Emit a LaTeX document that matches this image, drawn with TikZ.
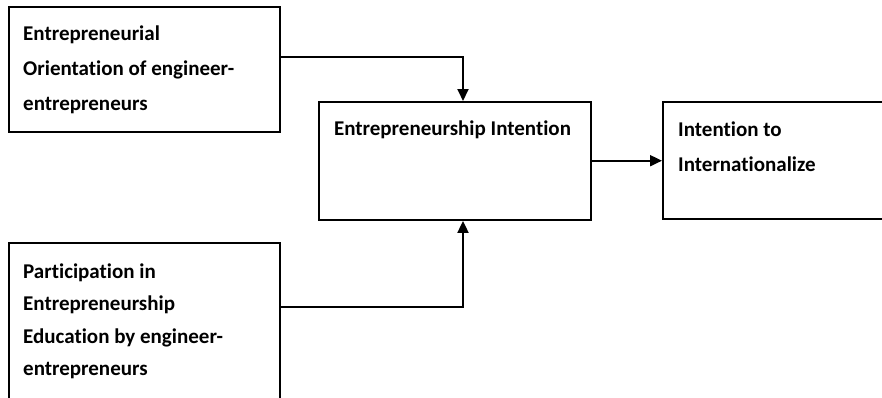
\documentclass[tikz,border=0pt]{standalone}
\usepackage{fontspec}
\setmainfont{Carlito}[Ligatures=NoCommon]
\usetikzlibrary{arrows.meta}
\begin{document}
\begin{tikzpicture}[x=1pt,y=-1pt,
  box/.style={draw=black,line width=1.9pt,fill=white},
  txt/.style={anchor=base west,inner sep=0pt,font=\bfseries\fontsize{21}{25}\selectfont},
  conn/.style={line width=1.9pt,-{Triangle[length=12pt,width=11pt]}}]
\useasboundingbox (0,0) rectangle (882,397);
\clip (0,0) rectangle (882,397);
\fill[white] (0,0) rectangle (882,397);
% boxes
\node[box,minimum width=271pt,minimum height=125pt,inner sep=0pt,anchor=north west] (A) at (8,6) {};
\node[box,minimum width=272pt,minimum height=118pt,inner sep=0pt,anchor=north west] (B) at (318,101) {};
\node[box,minimum width=240pt,minimum height=117pt,inner sep=0pt,anchor=north west] (C) at (662,101) {};
\node[box,minimum width=271pt,minimum height=170pt,inner sep=0pt,anchor=north west] (D) at (8,242) {};
% texts
\node[txt] (a1) at (23,40.7) {Entrepreneurial};
\node[txt] (a2) at (23,75.5) {Orientation of engineer-};
\node[txt] (a3) at (23,110) {entrepreneurs};
\node[txt,anchor=base] (b1) at (452.5,135) {Entrepreneurship Intention};
\node[txt] (c1) at (678,136.7) {Intention to};
\node[txt] (c2) at (678,171.7) {Internationalize};
\node[txt] (d1) at (23,278.3) {Participation in};
\node[txt] (d2) at (23,310.8) {Entrepreneurship};
\node[txt] (d3) at (23,343.3) {Education by engineer-};
\node[txt] (d4) at (23,375.8) {entrepreneurs};
% connectors
\coordinate (ja) at (463,56.7);
\coordinate (jd) at (463,307);
\draw[conn] (A.east |- ja) -- (ja) -- (B.north -| ja);
\draw[conn] (D.east |- jd) -- (jd) -- (B.south -| jd);
\draw[conn] (B.east |- 0,160.7) -- (C.west |- 0,160.7);
\end{tikzpicture}
\end{document}
